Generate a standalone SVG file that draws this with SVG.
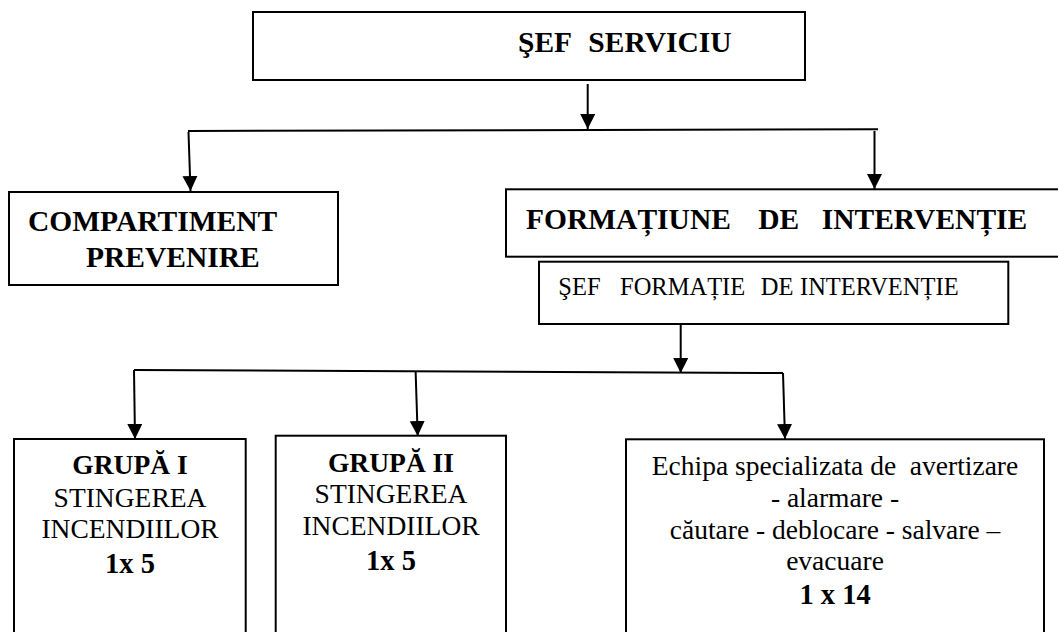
<svg xmlns="http://www.w3.org/2000/svg" width="1058" height="632" viewBox="0 0 1058 632">
<style>
.box{fill:#fff;stroke:#000;stroke-width:2}
.ln{fill:none;stroke:#000;stroke-width:2}
.arr{fill:none;stroke:#000;stroke-width:2;marker-end:url(#ah)}
.t{font-family:'Liberation Serif','Times New Roman',Tinos,'DejaVu Serif',serif;fill:#000}
.hb{font-size:29.5px;font-weight:bold}
.r{font-size:24.5px;font-weight:normal}
.b{font-size:27.5px;font-weight:bold}
.m{font-size:27.5px;font-weight:normal}
.n{font-size:28.5px;font-weight:bold}
</style>
<defs>
<marker id="ah" viewBox="0 0 15 15" refX="15" refY="7.5" markerWidth="15" markerHeight="15" markerUnits="userSpaceOnUse" orient="auto">
<path d="M0,0 L15,7.5 L0,15 z" fill="#000"/>
</marker>
</defs>
<rect width="1058" height="632" fill="#fff"/>
<g id="connectors">
<line class="arr" x1="587.7" y1="84" x2="587.7" y2="129"/>
<line class="ln" x1="188" y1="131" x2="878" y2="129.3"/>
<line class="arr" x1="188.5" y1="132" x2="190.5" y2="191"/>
<line class="arr" x1="874.5" y1="131" x2="874.5" y2="189"/>
<line class="arr" x1="680.7" y1="324" x2="680.7" y2="373"/>
<line class="ln" x1="134" y1="370" x2="783" y2="373"/>
<line class="arr" x1="134" y1="370" x2="135" y2="439"/>
<line class="arr" x1="415.6" y1="371" x2="417.7" y2="436"/>
<line class="arr" x1="783" y1="373" x2="785" y2="439"/>
</g>
<g id="sef-serviciu" class="t" font-family="'Liberation Serif','Times New Roman',serif">
<rect class="box" x="253" y="12" width="552" height="68"/>
<text class="hb" y="52"><tspan x="518">ŞEF</tspan><tspan x="588.3">SERVICIU</tspan></text>
</g>
<g id="compartiment-prevenire" class="t" font-family="'Liberation Serif','Times New Roman',serif">
<rect class="box" x="9" y="192" width="329" height="93"/>
<text class="hb" x="28" y="231">COMPARTIMENT</text>
<text class="hb" x="86" y="267">PREVENIRE</text>
</g>
<g id="formatiune-interventie" class="t" font-family="'Liberation Serif','Times New Roman',serif">
<rect class="box" x="506" y="189.3" width="560" height="67.4"/>
<text class="hb" y="228.5"><tspan x="526">FORMAȚIUNE</tspan><tspan x="758.3">DE</tspan><tspan x="821.7">INTERVENȚIE</tspan></text>
</g>
<g id="sef-formatie" class="t" font-family="'Liberation Serif','Times New Roman',serif">
<rect class="box" x="539" y="261.7" width="469.3" height="62.3"/>
<text class="r" y="295"><tspan x="558.3">ŞEF</tspan><tspan x="620">FORMAȚIE</tspan><tspan x="760.7">DE</tspan><tspan x="800">INTERVENȚIE</tspan></text>
</g>
<g id="grupa-1" class="t" font-family="'Liberation Serif','Times New Roman',serif">
<rect class="box" x="14" y="439" width="231.7" height="210"/>
<text text-anchor="middle" x="130"><tspan class="b" x="130" y="474.3">GRUPĂ I</tspan><tspan class="m" x="130" y="507.3">STINGEREA</tspan><tspan class="m" x="130" y="538.3">INCENDIILOR</tspan><tspan class="n" x="130" y="573.3">1x 5</tspan></text>
</g>
<g id="grupa-2" class="t" font-family="'Liberation Serif','Times New Roman',serif">
<rect class="box" x="275.7" y="435.7" width="230.3" height="210"/>
<text text-anchor="middle" x="391"><tspan class="b" x="391" y="471.7">GRUPĂ II</tspan><tspan class="m" x="391" y="503.3">STINGEREA</tspan><tspan class="m" x="391" y="535">INCENDIILOR</tspan><tspan class="n" x="391" y="570">1x 5</tspan></text>
</g>
<g id="echipa-specializata" class="t" font-family="'Liberation Serif','Times New Roman',serif">
<rect class="box" x="626" y="439.3" width="418" height="210"/>
<text text-anchor="middle" x="835" xml:space="preserve"><tspan class="m" x="835" y="475">Echipa specializata de  avertizare</tspan><tspan class="m" x="835" y="506.5">- alarmare -</tspan><tspan class="m" x="835" y="538.5">căutare - deblocare - salvare –</tspan><tspan class="m" x="835" y="570">evacuare</tspan><tspan class="n" x="835" y="604">1 x 14</tspan></text>
</g>
</svg>
